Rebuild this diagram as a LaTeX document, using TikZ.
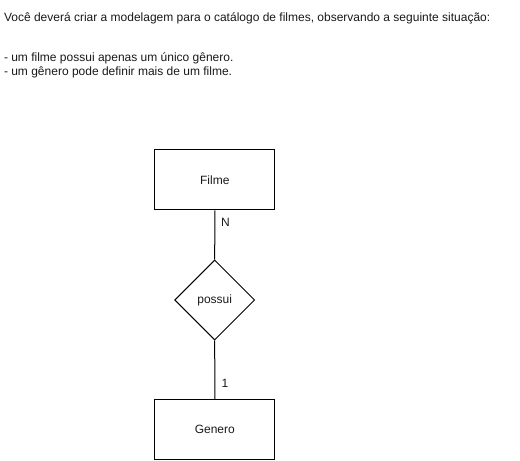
\documentclass[tikz,border=0pt]{standalone}
\usepackage{fontspec}
\setmainfont{Liberation Sans}
\usetikzlibrary{shapes.geometric}
\definecolor{txtcolor}{rgb}{0.1,0.1,0.1}

\begin{document}
\begin{tikzpicture}[x=1bp,y=-1bp,line width=1bp,
  entidade/.style={draw,minimum width=120bp,minimum height=60bp,inner sep=0pt},
  relacao/.style={draw,diamond,aspect=1,minimum width=80bp,minimum height=80bp,inner sep=0pt},
  txt/.style={font=\fontsize{12bp}{14bp}\selectfont,text=txtcolor,inner sep=0pt}]
  \useasboundingbox (0,0) rectangle (520,461);
  % enunciado
  \node[txt,anchor=west] (enun) at (3.5,18) {Você deverá criar a modelagem para o catálogo de filmes, observando a seguinte situação:};
  \node[txt,anchor=west] (regra1) at (3.5,58) {- um filme possui apenas um único gênero.};
  \node[txt,anchor=west] (regra2) at (3.5,72) {- um gênero pode definir mais de um filme.};
  % modelo
  \node[entidade,txt] (filme) at (214.8,180) {Filme};
  \node[relacao,txt] (possui) at (214.7,300) {possui};
  \node[entidade,txt] (genero) at (214.8,429.5) {Genero};
  \draw (filme) -- (possui);
  \draw (possui) -- (genero);
  \node[txt] (cardN) at (225.5,222) {N};
  \node[txt] (card1) at (225,383) {1};
\end{tikzpicture}
\end{document}
